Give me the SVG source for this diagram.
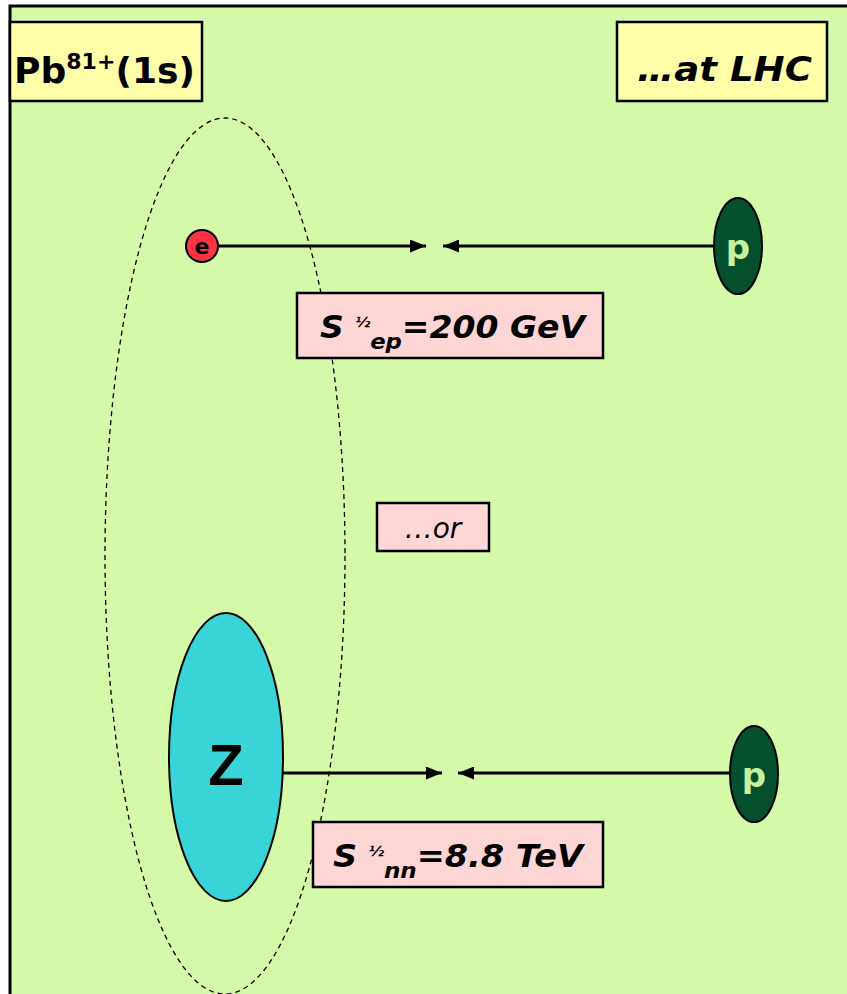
<svg xmlns="http://www.w3.org/2000/svg" width="847" height="994" viewBox="0 0 847 994">
<defs>
<style>
.box{stroke:#000;stroke-width:2.5}
.lbl{font-family:"DejaVu Sans",sans-serif;font-weight:bold;font-style:italic;fill:#000}
.conn{stroke:#000;stroke-width:3;fill:none}
</style>
<marker id="ah" viewBox="0 0 16 13" refX="16" refY="6.5" markerWidth="16" markerHeight="13" markerUnits="userSpaceOnUse" orient="auto"><path d="M0,0 L16,6.5 L0,13 z" fill="#000"/></marker>
</defs>
<rect x="0" y="0" width="847" height="994" fill="#fff"/>
<rect x="10" y="6" width="840" height="992" fill="#d4f9a8" stroke="#000" stroke-width="3"/>
<g id="orbit"><ellipse cx="225" cy="556" rx="120" ry="438" fill="none" stroke="#000" stroke-width="1.3" stroke-dasharray="5,4"/></g>
<g id="connectors">
<line class="conn" x1="218" y1="246" x2="426" y2="246" marker-end="url(#ah)"/>
<line class="conn" x1="713" y1="246" x2="443" y2="246" marker-end="url(#ah)"/>
<line class="conn" x1="283" y1="773" x2="442" y2="773" marker-end="url(#ah)"/>
<line class="conn" x1="729" y1="773" x2="458" y2="773" marker-end="url(#ah)"/>
</g>
<g id="pb"><rect class="box" x="10" y="22" width="192" height="79" fill="#ffffaa"/>
<text x="14" y="83" font-family="DejaVu Sans,sans-serif" font-weight="bold" font-size="36" textLength="181" lengthAdjust="spacingAndGlyphs">Pb<tspan font-size="22" dy="-14">81+</tspan><tspan dy="14">(1s)</tspan></text></g>
<g id="lhc"><rect class="box" x="617" y="22" width="210" height="79" fill="#ffffaa"/>
<text class="lbl" x="637" y="81" font-size="34" textLength="175" lengthAdjust="spacingAndGlyphs">…at LHC</text></g>
<g id="e"><circle cx="202" cy="246" r="16" fill="#ff3344" stroke="#000" stroke-width="2"/>
<text x="202" y="254" font-family="DejaVu Sans,sans-serif" font-weight="bold" font-size="22" text-anchor="middle">e</text></g>
<g id="p1"><ellipse cx="738" cy="246" rx="24" ry="48" fill="#04502c" stroke="#000" stroke-width="2"/>
<text x="738" y="259" font-family="DejaVu Sans,sans-serif" font-weight="bold" font-size="34" fill="#c8f0a0" text-anchor="middle">p</text></g>
<g id="sep"><rect class="box" x="297" y="293" width="306" height="65" fill="#ffd6d6"/>
<text class="lbl" x="320" y="338" font-size="32" textLength="265" lengthAdjust="spacingAndGlyphs">S <tspan font-size="14" dy="-11">½</tspan><tspan font-size="22" dy="22">ep</tspan><tspan dy="-11">=200 GeV</tspan></text></g>
<g id="or"><rect class="box" x="377" y="503" width="112" height="48" fill="#ffd6d6"/>
<text x="433" y="538" font-family="DejaVu Sans,sans-serif" font-style="italic" font-size="28" text-anchor="middle">…or</text></g>
<g id="z"><ellipse cx="226" cy="757" rx="57" ry="144" fill="#38d4d8" stroke="#000" stroke-width="2"/>
<text x="226" y="785" font-family="Liberation Sans,Arial,sans-serif" font-weight="bold" font-size="58" text-anchor="middle">Z</text></g>
<g id="p2"><ellipse cx="754" cy="774" rx="24" ry="48" fill="#04502c" stroke="#000" stroke-width="2"/>
<text x="754" y="787" font-family="DejaVu Sans,sans-serif" font-weight="bold" font-size="34" fill="#c8f0a0" text-anchor="middle">p</text></g>
<g id="snn"><rect class="box" x="313" y="822" width="290" height="65" fill="#ffd6d6"/>
<text class="lbl" x="333" y="867" font-size="32" textLength="250" lengthAdjust="spacingAndGlyphs">S <tspan font-size="14" dy="-11">½</tspan><tspan font-size="22" dy="22">nn</tspan><tspan dy="-11">=8.8 TeV</tspan></text></g>
</svg>
